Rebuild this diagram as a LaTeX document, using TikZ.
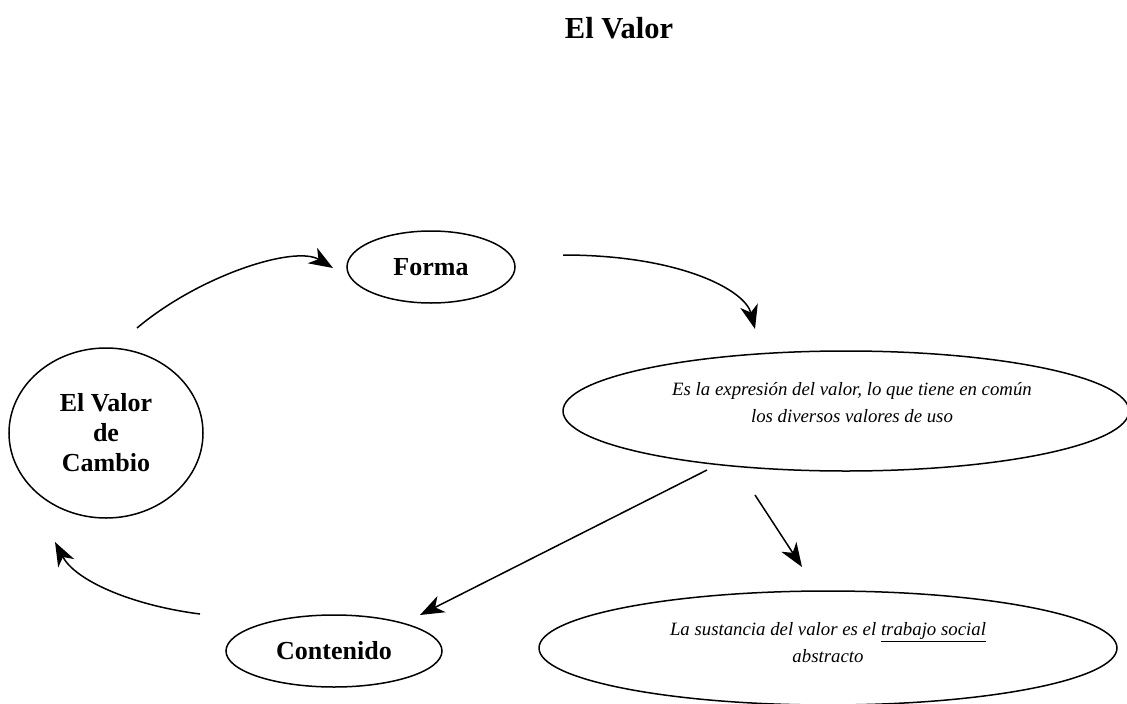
\documentclass[tikz,border=0pt]{standalone}
\usepackage{fontspec}
\setmainfont{Liberation Serif}
\usetikzlibrary{shapes.geometric,arrows.meta}
\begin{document}
\begin{tikzpicture}[x=1pt,y=-1pt,
  oval/.style={draw,ellipse,line width=1.5pt,inner sep=0pt,align=center},
  boldtxt/.style={font=\fontsize{26}{30}\selectfont\bfseries},
  itxt/.style={align=center,font=\fontsize{18.8}{27}\selectfont\itshape},
  conn/.style={line width=1.5pt,-{Stealth[length=24pt,width=18pt,inset=7pt]}}]
\useasboundingbox (0,0) rectangle (1127,704);
\clip (0,0) rectangle (1127,704);
\node[font=\fontsize{30.5}{34}\selectfont\bfseries] (title) at (619,28) {El Valor};
\node[oval,boldtxt,minimum width=168pt,minimum height=72pt] (forma) at (431,267) {Forma};
\node[oval,boldtxt,minimum width=194pt,minimum height=170pt] (cambio) at (106,433) {El Valor\\de\\Cambio};
\node[oval,minimum width=566pt,minimum height=120pt] (expr) at (846,411) {};
\node[itxt] (exprtxt) at (852,403) {Es la expresión del valor, lo que tiene en común\\los diversos valores de uso};
\node[oval,boldtxt,minimum width=216pt,minimum height=72pt] (cont) at (334,651) {Contenido};
\node[oval,minimum width=578pt,minimum height=114pt] (sust) at (828,648) {};
\node[itxt] (susttxt) at (828,643) {La sustancia del valor es el \underline{trabajo social}\\abstracto};
\coordinate (c1s) at (137,328);
\coordinate (c1e) at (333,268);
\coordinate (c2s) at (563,255);
\coordinate (c2e) at (755,329);
\coordinate (c3s) at (707,470);
\coordinate (c3e) at (420,615);
\coordinate (c4s) at (755,495);
\coordinate (c4e) at (802,567);
\coordinate (c5s) at (200,614);
\coordinate (c5e) at (55,542);
\draw[conn] (c1s) .. controls (200,275) and (295,245) .. (c1e);
\draw[conn] (c2s) .. controls (680,255) and (745,290) .. (c2e);
\draw[conn] (c3s) -- (c3e);
\draw[conn] (c4s) -- (c4e);
\draw[conn] (c5s) .. controls (130,605) and (75,580) .. (c5e);
\end{tikzpicture}
\end{document}
